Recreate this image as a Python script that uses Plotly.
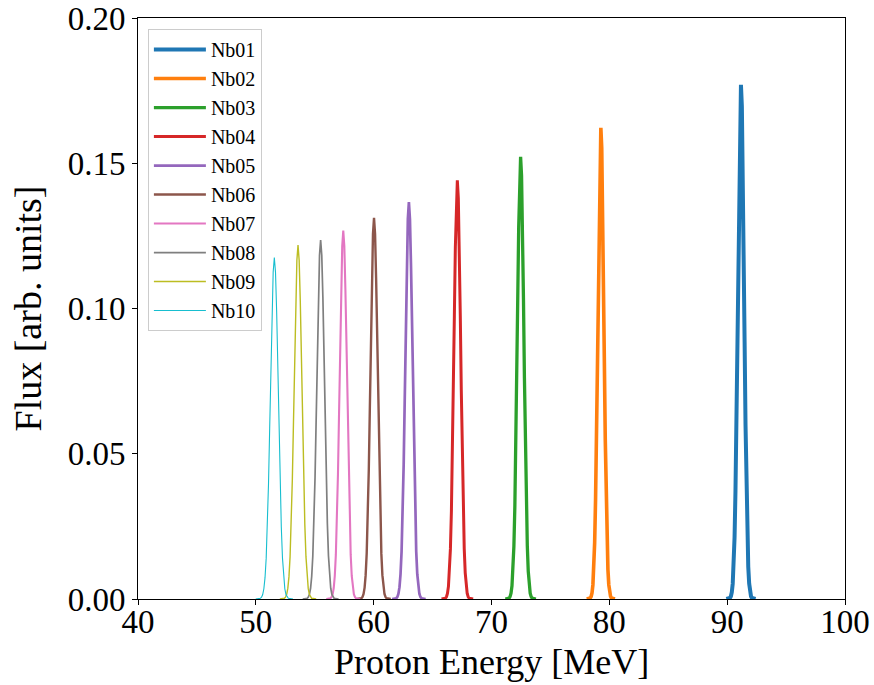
import numpy as np
import plotly.graph_objects as go

# Foil labels and the proton spectrum reaching each Nb foil
foils = ["Nb01", "Nb02", "Nb03", "Nb04", "Nb05", "Nb06", "Nb07", "Nb08", "Nb09", "Nb10"]
peak_energy = [91.17, 79.28, 72.47, 67.10, 62.99, 60.03, 57.42, 55.50, 53.58, 51.57]   # MeV
peak_flux = [0.1770, 0.1622, 0.1522, 0.1441, 0.1366, 0.1312, 0.1268, 0.1236, 0.1218, 0.1175]
peak_fwhm = [0.62, 0.60, 0.65, 0.67, 0.71, 0.71, 0.72, 0.76, 0.77, 0.79]  # MeV

# Tabulated normalised line profile (offset in units of FWHM -> relative flux)
profile_offset = [-2.0, -1.5, -1.375, -1.25, -1.125, -1.0, -0.875, -0.75, -0.625, -0.5,
                  -0.375, -0.25, -0.125, 0.0, 0.125, 0.25, 0.375, 0.5, 0.625, 0.75,
                  0.875, 1.0, 1.125, 1.25, 1.375, 1.5, 2.0]
profile_value = [0.0, 0.0020, 0.0053, 0.0131, 0.0299, 0.0625, 0.1197, 0.2102, 0.3385, 0.5,
                 0.6771, 0.8409, 0.9576, 1.0, 0.9576, 0.8409, 0.6771, 0.5, 0.3385, 0.2102,
                 0.1197, 0.0625, 0.0299, 0.0131, 0.0053, 0.0020, 0.0]

colors = ["#1f77b4", "#ff7f0e", "#2ca02c", "#d62728", "#9467bd",
          "#8c564b", "#e377c2", "#7f7f7f", "#bcbd22", "#17becf"]
widths = [4.0, 3.6, 3.3, 3.0, 2.7, 2.4, 2.1, 1.7, 1.4, 1.1]

x_ticks = [40, 50, 60, 70, 80, 90, 100]
y_ticks = [0.00, 0.05, 0.10, 0.15, 0.20]

font_family = "Liberation Serif, Times New Roman, serif"

off = np.array(profile_offset)
val = np.array(profile_value)

fig = go.Figure()
for name, e0, f0, w, c, lw in zip(foils, peak_energy, peak_flux, peak_fwhm, colors, widths):
    fig.add_trace(go.Scatter(
        x=e0 + off * w,
        y=f0 * val,
        mode="lines",
        name=name,
        line=dict(color=c, width=lw),
    ))

fig.update_layout(
    width=874,
    height=685,
    margin=dict(l=138, r=29, t=18, b=86),
    paper_bgcolor="white",
    plot_bgcolor="white",
    font=dict(family=font_family, color="black"),
    showlegend=True,
    legend=dict(
        x=0.014, y=0.981, xanchor="left", yanchor="top",
        bgcolor="rgba(255,255,255,0.8)",
        bordercolor="#cccccc", borderwidth=1,
        font=dict(family=font_family, size=20, color="black"),
        itemwidth=52,
        tracegroupgap=0,
    ),
    annotations=[
        dict(text="Proton Energy [MeV]", xref="paper", yref="paper",
             x=0.5, y=-0.1084, xanchor="center", yanchor="middle", showarrow=False,
             font=dict(family=font_family, size=36, color="black")),
        dict(text="Flux [arb. units]", xref="paper", yref="paper",
             x=-0.1556, y=0.5, xanchor="center", yanchor="middle", showarrow=False,
             textangle=-90,
             font=dict(family=font_family, size=38, color="black")),
    ],
)

fig.update_xaxes(
    range=[40, 100],
    tickvals=x_ticks,
    ticktext=[str(v) for v in x_ticks],
    ticks="outside", ticklen=5, tickwidth=1, tickcolor="black",
    ticklabelstandoff=-12,
    showline=True, linecolor="black", linewidth=1, mirror=True,
    showgrid=False, zeroline=False, automargin=False,
    tickfont=dict(family=font_family, size=33),
)
fig.update_yaxes(
    range=[0, 0.20],
    tickvals=y_ticks,
    ticktext=[f"{v:.2f}" for v in y_ticks],
    ticks="outside", ticklen=5, tickwidth=1, tickcolor="black",
    showline=True, linecolor="black", linewidth=1, mirror=True,
    showgrid=False, zeroline=False, automargin=False,
    tickfont=dict(family=font_family, size=33),
)

fig.write_html("out.html")
